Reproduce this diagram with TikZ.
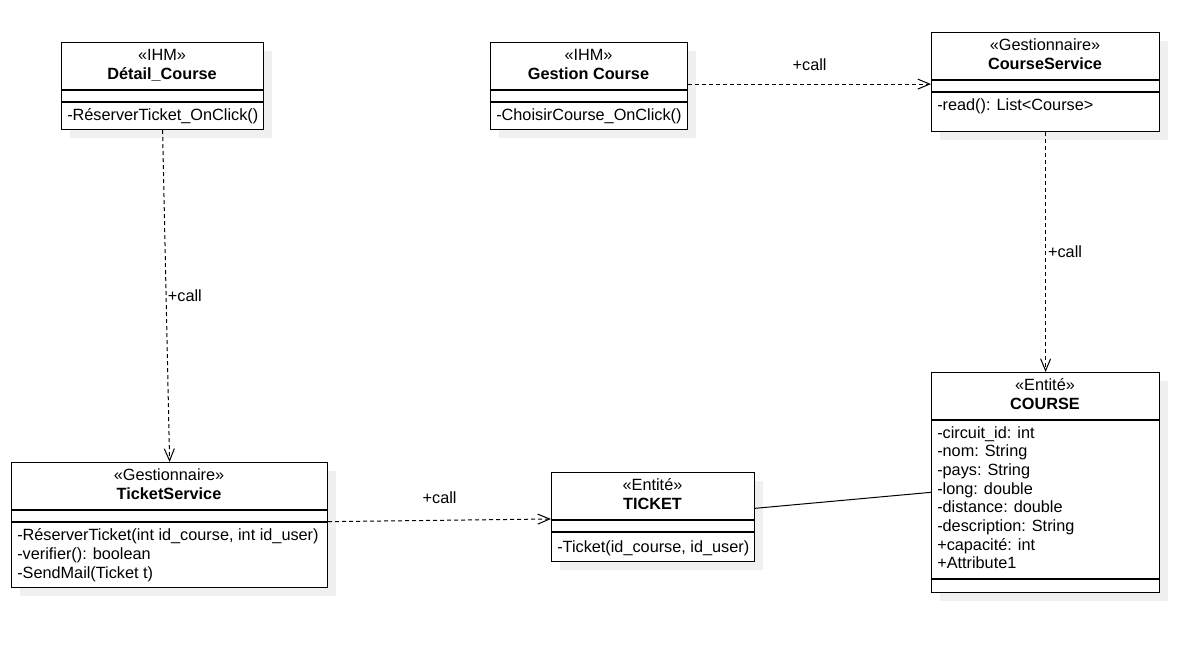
\documentclass[tikz,border=0pt]{standalone}
\usepackage{fontspec}
\setmainfont{Liberation Sans}
\usetikzlibrary{arrows.meta}
\usetikzlibrary{positioning}
\usetikzlibrary{shadows}
\definecolor{shadowgray}{RGB}{240,240,240}
\tikzset{classbox/.style = {draw, fill=white, line width=0.9pt, inner sep=0pt, anchor=north west,
                            drop shadow={shadow xshift=6pt, shadow yshift=-6pt,
                                         fill=shadowgray, opacity=1}}}
\tikzset{head/.style = {anchor=base, align=center, inner sep=0pt}}
\tikzset{members/.style = {anchor=base west, align=left, inner sep=0pt}}
\tikzset{rule/.style = {line width=0.9pt}}
\tikzset{call/.style = {dash pattern=on 3pt off 2.25pt, line width=0.75pt,
                        -{Straight Barb[length=9pt,width=7.5pt]}}}
\tikzset{lbl/.style = {inner sep=0pt}}

\begin{document}
\begin{tikzpicture}[x=0.75pt, y=-0.75pt, font=\fontsize{12.2pt}{14pt}\selectfont]
  \useasboundingbox (0,0) rectangle (1178,656);

  % IHM
  \node [classbox, minimum width=151.5pt, minimum height=65.25pt] (detail) at (61,42) {};
  \node [head] (detail-name) at (162,79.2) {«IHM»\\\textbf{Détail\_Course}};
  \draw [rule] (detail.north west) ++(0,48) -- ++(202,0) ++(-202,12) -- ++(202,0);
  \node [members] (detail-ops) at (67,121) {-RéserverTicket\_OnClick()};

  \node [classbox, minimum width=147.75pt, minimum height=65.25pt] (gestion) at (490,42) {};
  \node [head] (gestion-name) at (588.5,79.2) {«IHM»\\\textbf{Gestion Course}};
  \draw [rule] (gestion.north west) ++(0,48) -- ++(197,0) ++(-197,12) -- ++(197,0);
  \node [members] (gestion-ops) at (496,121) {-ChoisirCourse\_OnClick()};

  % Gestionnaires
  \node [classbox, minimum width=171pt, minimum height=74.25pt] (csvc) at (931,32) {};
  \node [head] (csvc-name) at (1045,69.2) {«Gestionnaire»\\\textbf{CourseService}};
  \draw [rule] (csvc.north west) ++(0,48) -- ++(228,0) ++(-228,12) -- ++(228,0);
  \node [members] (csvc-ops) at (937,111) {-read(): List<Course>};

  \node [classbox, minimum width=237pt, minimum height=93.75pt] (tsvc) at (11,462) {};
  \node [head] (tsvc-name) at (169,499.2) {«Gestionnaire»\\\textbf{TicketService}};
  \draw [rule] (tsvc.north west) ++(0,48) -- ++(316,0) ++(-316,12) -- ++(316,0);
  \node [members] (tsvc-ops) at (17,578.3) {-RéserverTicket(int id\_course, int id\_user)\\
                                           -verifier(): boolean\\
                                           -SendMail(Ticket t)};

  % Entites
  \node [classbox, minimum width=152.25pt, minimum height=66.75pt] (ticket) at (551,472) {};
  \node [head] (ticket-name) at (652.5,509.2) {«Entité»\\\textbf{TICKET}};
  \draw [rule] (ticket.north west) ++(0,48) -- ++(203,0) ++(-203,12) -- ++(203,0);
  \node [members] (ticket-ops) at (557,552.5) {-Ticket(id\_course, id\_user)};

  \node [classbox, minimum width=171pt, minimum height=165pt] (course) at (931,372) {};
  \node [head] (course-name) at (1045,409.2) {«Entité»\\\textbf{COURSE}};
  \draw [rule] (course.north west) ++(0,48) -- ++(228,0) ++(0,159) -- ++(-228,0);
  \node [members] (course-attr) at (937,568.7) {-circuit\_id: int\\
                                               -nom: String\\
                                               -pays: String\\
                                               -long: double\\
                                               -distance: double\\
                                               -description: String\\
                                               +capacité: int\\
                                               +Attribute1};

  % appels
  \draw [call] (detail.south) -- (tsvc.north)
        node [lbl, midway, right=1pt] (call-ticket) {+call};
  \draw [call] ([yshift=1.5pt]gestion.east) -- ([yshift=1.5pt]gestion.east -| csvc.west)
        node [lbl, midway, above=9.75pt] (call-course) {+call};
  \draw [call] (csvc.south) -- (course.north)
        node [lbl, midway, right=1.5pt] (call-read) {+call};
  \draw [call] ([yshift=2.6pt]tsvc.east) -- ([yshift=-1.4pt]ticket.west)
        node [lbl, midway, above=12pt] (call-new) {+call};
  \draw [line width=0.75pt] ([yshift=6.6pt]ticket.east) -- ([yshift=-7.3pt]course.west);
\end{tikzpicture}
\end{document}
